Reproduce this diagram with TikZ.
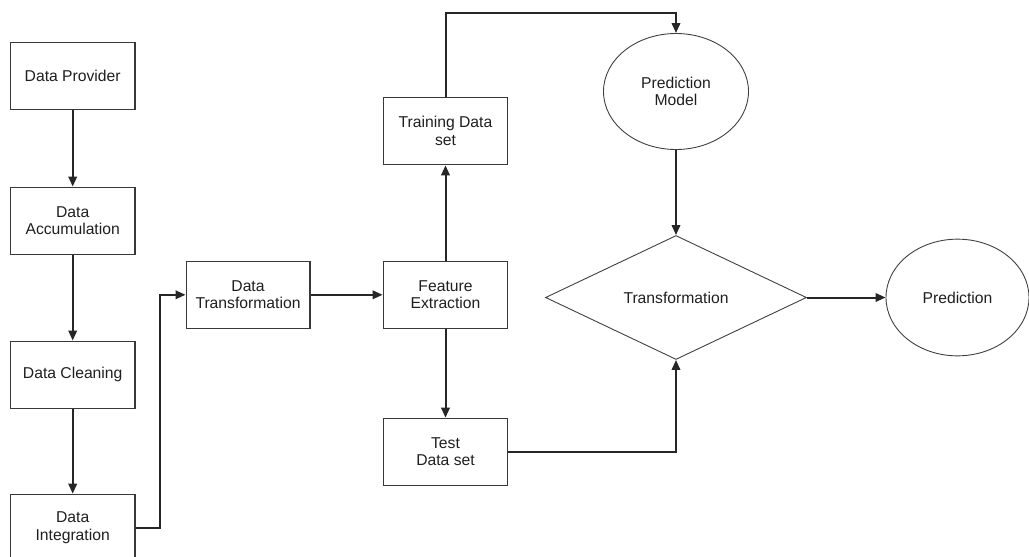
\documentclass[tikz,border=0pt]{standalone}
\usepackage{fontspec}
\setmainfont{Liberation Sans}
\usetikzlibrary{shapes.geometric,arrows.meta}

\tikzset{
  base/.style={align=center, inner sep=0pt, text=black!88,
    font=\fontsize{15.7}{17.7}\selectfont},
  procbox/.style={base, draw=black!78, line width=1.3pt, rectangle,
    minimum width=124.5pt, minimum height=67pt},
  oval/.style={base, draw=black!75, line width=0.9pt, ellipse},
  decision/.style={base, draw=black!75, line width=0.9pt, diamond,
    minimum width=261pt, minimum height=124pt},
  conn/.style={draw=black!85, line width=2pt,
    -{Triangle[length=10pt,width=8.5pt]}}
}

\begin{document}
\begin{tikzpicture}[x=1pt,y=-1pt]
  \useasboundingbox (0,0) rectangle (1029,557);

  % left column: acquisition and preparation
  \node[procbox] (prov)  at (72.7,75.8)  {Data Provider};
  \node[procbox] (accum) at (72.7,220.7) {Data\\Accumulation};
  \node[procbox] (clean) at (72.7,374.7) {Data Cleaning};
  \node[procbox] (integ) at (72.7,527.8) {Data\\Integration};

  % middle: transformation and feature extraction
  \node[procbox, minimum width=123.7pt] (trans) at (248,294.8) {Data\\Transformation};
  \node[procbox] (feat)  at (445.5,294.8) {Feature\\Extraction};
  \node[procbox] (train) at (445.5,131.2) {Training Data\\set};
  \node[procbox] (test)  at (445.5,451.8) {Test\\Data set};

  % right: model, transformation decision and prediction
  \node[oval, minimum width=145pt, minimum height=116pt] (model) at (676,91.5) {Prediction\\Model};
  \node[decision] (diam) at (676,297.5) {Transformation};
  \node[oval, minimum width=143pt, minimum height=116.7pt] (pred) at (957.5,297.5) {Prediction};

  % routing helpers
  \coordinate (jog) at (160.3,0);
  \coordinate (topline) at (0,12.7);

  % connectors
  \draw[conn] (prov.south) -- (accum.north);
  \draw[conn] (accum.south) -- (clean.north);
  \draw[conn] (clean.south) -- (integ.north);
  \draw[conn] (integ.east) -- (integ.east -| jog) |- (trans.west);
  \draw[conn] (trans.east) -- (feat.west);
  \draw[conn] (feat.north) -- (train.south);
  \draw[conn] (feat.south) -- (test.north);
  \draw[conn] (train.north) -- (train.north |- topline) -| (model.north);
  \draw[conn] (model.south) -- (diam.north);
  \draw[conn] (test.east) -| (diam.south);
  \draw[conn] (diam.east) -- (pred.west);
\end{tikzpicture}
\end{document}
